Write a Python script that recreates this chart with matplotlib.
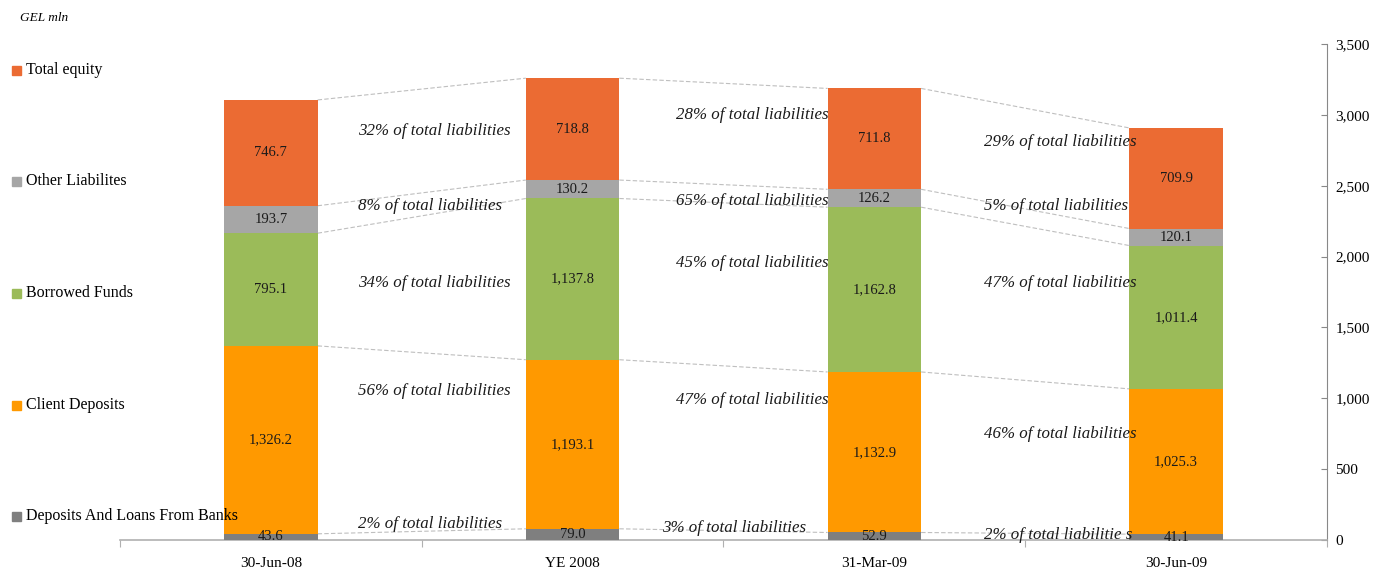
import numpy as np
import matplotlib
matplotlib.use("Agg")
import matplotlib.pyplot as plt
from matplotlib.patches import Rectangle

plt.rcParams['font.family'] = ['Liberation Serif', 'DejaVu Serif']

# data (GEL mln)
periods = ["30-Jun-08", "YE 2008", "31-Mar-09", "30-Jun-09"]
series = ["Deposits And Loans From Banks", "Client Deposits", "Borrowed Funds",
          "Other Liabilites", "Total equity"]
bank_dep = [43.6, 79.0, 52.9, 41.1]
client_dep = [1326.2, 1193.1, 1132.9, 1025.3]
borrowed = [795.1, 1137.8, 1162.8, 1011.4]
other_liab = [193.7, 130.2, 126.2, 120.1]
equity = [746.7, 718.8, 711.8, 709.9]
colors = ["#7f7f7f", "#ff9900", "#9bbb59", "#a6a6a6", "#eb6b33"]

# share labels between the bars, one list per gap (bottom -> top)
shares = [["2%", "56%", "34%", "8%", "32%"],
          ["3%", "47%", "45%", "65%", "28%"],
          ["2%", "46%", "47%", "5%", "29%"]]
share_y = [[113, 1052, 1814, 2357, 2886],
           [85, 988, 1955, 2392, 2999],
           [35, 748, 1814, 2357, 2809]]
share_x = [0.288, 1.344, 2.364]

fig = plt.figure(figsize=(13.74, 5.71), dpi=100)
ax = fig.add_axes([0.0873, 0.0543, 0.8785, 0.8686])

data = np.array([bank_dep, client_dep, borrowed, other_liab, equity])
x = np.arange(len(periods))
w = 0.31
bottom = np.zeros(len(periods))
tops = []
for vals, c in zip(data, colors):
    ax.bar(x, vals, w, bottom=bottom, color=c, zorder=3)
    for xi, b, v in zip(x, bottom, vals):
        ax.text(xi, b + v / 2, f"{v:,.1f}", ha="center", va="center",
                fontsize=10.5, color="#1a1a1a", zorder=5)
    bottom = bottom + vals
    tops.append(bottom.copy())

# dashed connectors
for t in tops:
    for i in range(len(periods) - 1):
        ax.plot([x[i] + w / 2, x[i + 1] - w / 2], [t[i], t[i + 1]],
                color="#bfbfbf", lw=0.8, ls=(0, (4, 2)), zorder=2)

for g in range(3):
    for j in range(5):
        xx = share_x[g]
        if g == 1 and j == 0:
            xx = 1.298
        txt = shares[g][j] + " of total liabilities"
        if g == 2 and j == 0:
            txt = "2% of total liabilitie s"
        ax.text(xx, share_y[g][j], txt, ha="left", va="center",
                fontsize=12.2, style="italic", color="#1a1a1a", zorder=4)

ax.set_xlim(-0.5, 3.5)
ax.set_ylim(0, 3500)
ax.set_xticks(np.arange(-0.5, 3.6, 1))
ax.set_xticklabels([])
ax.set_xticks(x, minor=True)
ax.set_xticklabels(periods, minor=True, fontsize=11)
ax.tick_params(axis="x", which="minor", length=0, pad=12)
ax.tick_params(axis="x", which="major", length=5, color="#b0b0b0")
ax.yaxis.tick_right()
ax.set_yticks(np.arange(0, 3501, 500))
ax.set_yticklabels([f"{v:,}" for v in range(0, 3501, 500)], fontsize=11)
ax.tick_params(axis="y", direction="in", length=4, color="#888888", pad=6)
for s in ["top", "left"]:
    ax.spines[s].set_visible(False)
ax.spines["bottom"].set_color("#b0b0b0")
ax.spines["bottom"].set_linewidth(1.2)
ax.spines["right"].set_color("#888888")

# legend down the left side
fig.text(20 / 1374, 1 - 18 / 571, "GEL mln", fontsize=9.5, style="italic",
         va="center", ha="left")
leg_y = [516, 405, 293, 181, 70]
for name, c, yy in zip(series, colors, leg_y):
    fig.patches.append(Rectangle((12 / 1374, 1 - (yy + 4.5) / 571), 9 / 1374, 9 / 571,
                                 transform=fig.transFigure, color=c))
    fig.text(26 / 1374, 1 - yy / 571, name, fontsize=11.5, va="center", ha="left")

fig.savefig("out.png", dpi=100)
